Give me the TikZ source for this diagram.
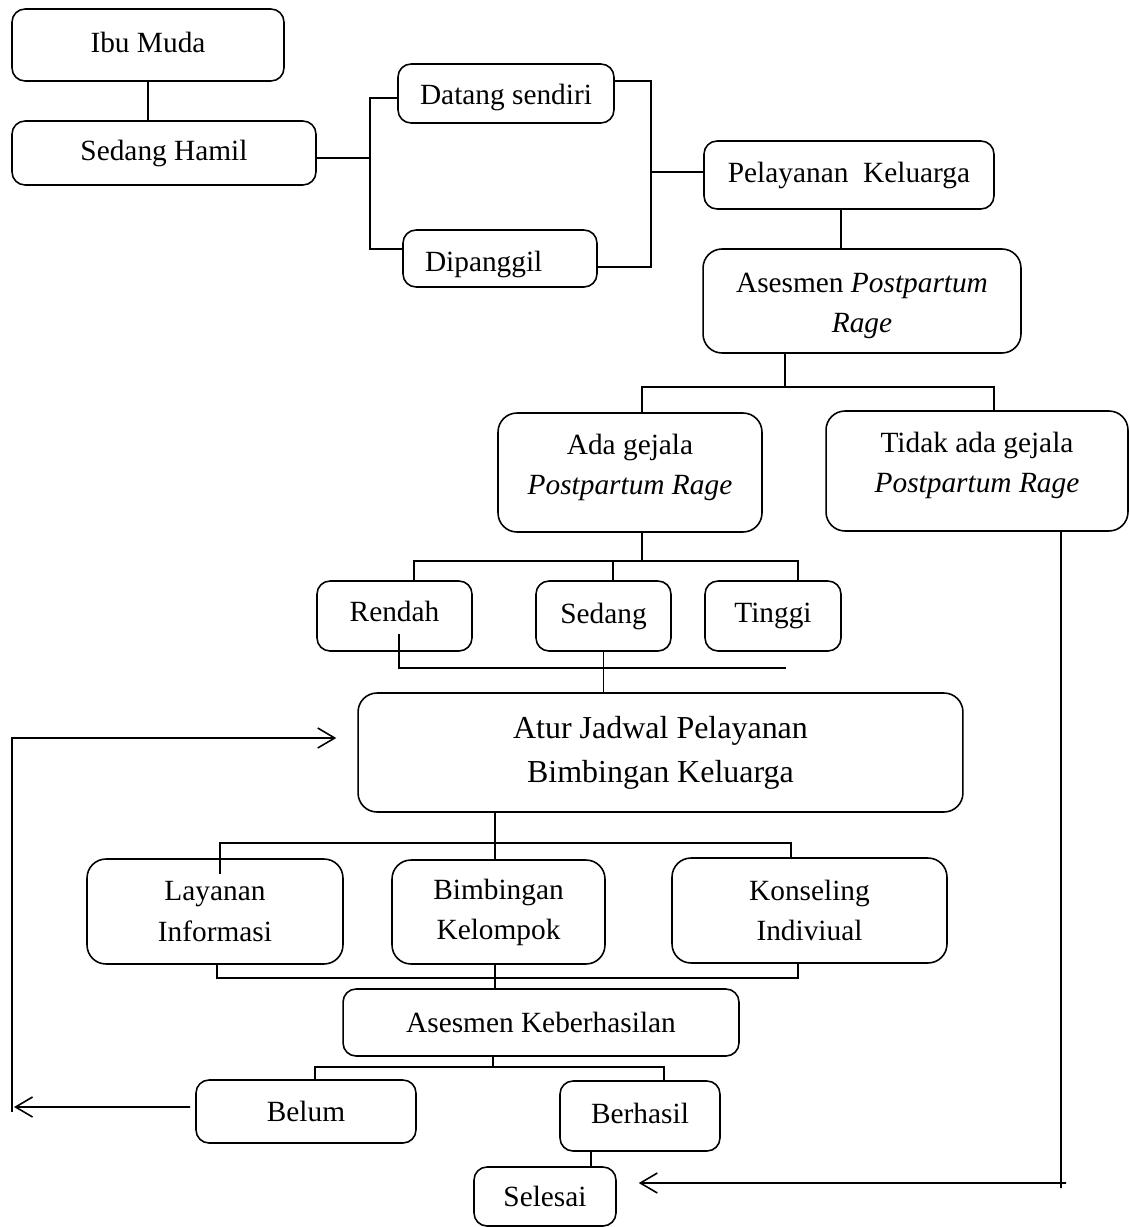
\documentclass[tikz,border=0pt]{standalone}
\usepackage{fontspec}
\setmainfont{Liberation Serif}
\usetikzlibrary{arrows.meta}
\begin{document}
\begin{tikzpicture}[x=0.02cm, y=-0.02cm, line width=0.9pt, >={Straight Barb[length=0.34cm,width=0.4cm]},
        kotak/.style={draw, rounded corners=0.26cm, inner sep=2pt, align=center, font=\fontsize{16.7}{22.8}\selectfont},
        besar/.style={kotak, rounded corners=0.38cm}]
        \useasboundingbox (0,0) rectangle (1129,1227);

        % Ibu muda dan cara datang
        \node[kotak, minimum width=5.44cm, minimum height=1.44cm, text depth=0.12cm] (ibu) at (148,45) {Ibu Muda};
        \node[kotak, minimum width=6.08cm, minimum height=1.28cm] (hamil) at (164,153) {Sedang Hamil};
        \node[kotak, minimum width=4.32cm, minimum height=1.18cm, text height=0.56cm] (datang) at (506,93.5) {Datang sendiri};
        \node[kotak, text width=3cm, align=left, inner xsep=0.44cm, minimum height=1.14cm, text height=0.64cm] (panggil) at (500,258.5) {Dipanggil};
        \draw (ibu.south) -- (ibu.south |- hamil.north);
        \coordinate (kiri) at (370,158);
        \draw (hamil.east |- kiri) -- (kiri);
        \draw ([yshift=-0.09cm]datang.west) -| (kiri) |- ([yshift=0.19cm]panggil.west);

        % Pelayanan dan asesmen
        \node[kotak, minimum width=5.8cm, minimum height=1.36cm] (pelayanan) at (849,175) {Pelayanan\ \ Keluarga};
        \node[besar, minimum width=6.36cm, minimum height=2.08cm] (asesmen) at (862,301) {\rule{0pt}{0.6cm}Asesmen \textit{Postpartum}\\\textit{Rage}};
        \coordinate (kanan) at (651,172);
        \draw ([yshift=0.25cm]datang.east) -| (kanan) |- ([yshift=-0.17cm]panggil.east);
        \draw (kanan) -- (kanan -| pelayanan.west);
        \draw ([xshift=-0.16cm]pelayanan.south) -- ([xshift=-0.16cm]pelayanan.south |- asesmen.north);

        % Hasil asesmen
        \node[besar, minimum width=5.28cm, minimum height=2.38cm, text depth=0.33cm] (ada) at (630,472.5) {Ada gejala\\\textit{Postpartum Rage}};
        \node[besar, minimum width=6.04cm, minimum height=2.4cm, text depth=0.33cm] (tidak) at (977,471) {Tidak ada gejala\\\textit{Postpartum Rage}};
        \coordinate (cab1) at (785,387);
        \draw (cab1 |- asesmen.south) -- (cab1);
        \draw ([xshift=0.24cm]ada.north) |- (cab1) -| ([xshift=0.34cm]tidak.north);

        % Tingkat gejala
        \node[kotak, minimum width=3.1cm, minimum height=1.4cm, text depth=0.2cm] (rendah) at (394.5,616) {Rendah};
        \node[kotak, minimum width=2.7cm, minimum height=1.4cm] (sedang) at (603.5,616) {Sedang};
        \node[kotak, minimum width=2.72cm, minimum height=1.4cm] (tinggi) at (773,616) {Tinggi};
        \coordinate (cab2) at (642,561);
        \draw ([xshift=0.24cm]ada.south) -- (cab2);
        \draw ([xshift=0.39cm]rendah.north) |- (cab2) -| ([xshift=0.5cm]tinggi.north);
        \draw ([xshift=0.19cm]sedang.north) -- ([xshift=0.19cm]sedang.north |- cab2);

        % Jadwal bimbingan
        \node[besar, minimum width=12.1cm, minimum height=2.38cm, font=\fontsize{18.2}{25}\selectfont] (atur) at (660.5,752.5) {Atur Jadwal Pelayanan\\Bimbingan Keluarga};
        \coordinate (ujung3) at (786,668);
        \draw ([xshift=0.09cm,yshift=-0.36cm]rendah.center) |- (ujung3);
        \draw (sedang.south) -- (sedang.south |- atur.north);

        % Jenis layanan
        \node[besar, minimum width=5.12cm, minimum height=2.1cm] (informasi) at (215,911.5) {Layanan\\Informasi};
        \node[besar, minimum width=4.26cm, minimum height=2.08cm] (kelompok) at (498.5,912) {Bimbingan\\Kelompok};
        \node[besar, minimum width=5.5cm, minimum height=2.1cm] (konseling) at (809.5,910.5) {Konseling\\Indiviual};
        \coordinate (cab4) at (495,843);
        \draw (cab4 |- atur.south) -- (cab4 |- kelompok.north);
        \draw ([xshift=0.1cm,yshift=-0.32cm]informasi.north) |- (cab4) -| ([xshift=-0.37cm]konseling.north);

        % Asesmen keberhasilan
        \node[kotak, minimum width=7.92cm, minimum height=1.34cm] (hasil) at (541,1022.5) {Asesmen Keberhasilan};
        \coordinate (cab5) at (495,978);
        \draw ([xshift=0.04cm]informasi.south) |- (cab5) -| ([xshift=-0.23cm]konseling.south);
        \draw (cab5 |- kelompok.south) -- (cab5 |- hasil.north);

        \node[kotak, minimum width=4.4cm, minimum height=1.26cm] (belum) at (306,1111.5) {Belum};
        \node[kotak, minimum width=3.2cm, minimum height=1.4cm, text depth=0.12cm] (berhasil) at (640,1116) {Berhasil};
        \node[kotak, minimum width=2.84cm, minimum height=1.18cm] (selesai) at (545,1196.5) {Selesai};
        \coordinate (cab6) at (493,1067);
        \draw (cab6 |- hasil.south) -- (cab6);
        \draw ([xshift=0.18cm]belum.north) |- (cab6) -| ([xshift=0.48cm]berhasil.north);
        \draw ([xshift=-0.98cm]berhasil.south) -- ([xshift=-0.98cm]berhasil.south |- selesai.north);

        % Kembali ke jadwal
        \coordinate (kembali) at (14,1107);
        \coordinate (pojok) at (12,1112);
        \draw[->] ([xshift=-0.1cm,yshift=0.09cm]belum.west) -- (kembali);
        \draw[->] (pojok) |- ([xshift=-0.42cm,yshift=0.29cm]atur.west);

        % Tidak ada gejala langsung selesai
        \coordinate (pojok2) at (1061,1188);
        \coordinate (masuk) at (1066,1183);
        \draw ([xshift=1.68cm]tidak.south) -- (pojok2);
        \draw[->] (masuk) -- ([xshift=0.44cm,yshift=0.27cm]selesai.east);
\end{tikzpicture}
\end{document}
